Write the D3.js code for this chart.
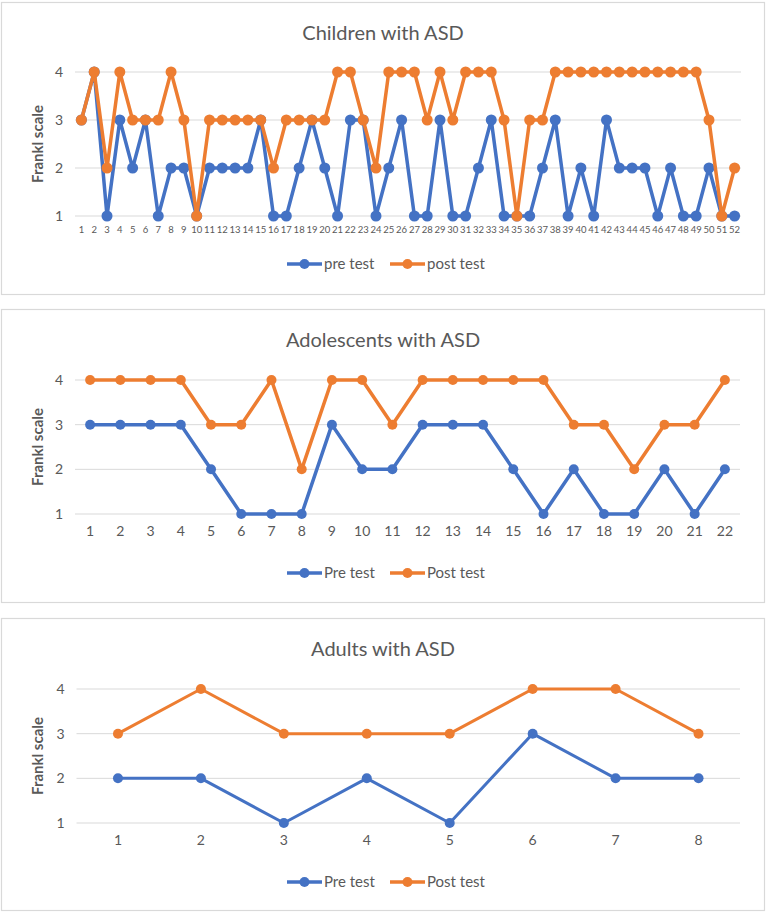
<!DOCTYPE html>
<html><head><meta charset="utf-8">
<script src="https://cdn.jsdelivr.net/npm/d3@7"></script>
<style>body{margin:0;background:#fff;}svg{display:block;font-family:Lato,"Open Sans",sans-serif;}</style>
</head><body>
<svg id="c" width="766" height="913"></svg>
<script>
// ---- data ----
const childCats = d3.range(1, 53);
const childPre = [3,4,1,3,2,3,1,2,2,1,2,2,2,2,3,1,1,2,3,2,1,3,3,1,2,3,1,1,3,1,1,2,3,1,1,1,2,3,1,2,1,3,2,2,2,1,2,1,1,2,1,1];
const childPost = [3,4,2,4,3,3,3,4,3,1,3,3,3,3,3,2,3,3,3,3,4,4,3,2,4,4,4,3,4,3,4,4,4,3,1,3,3,4,4,4,4,4,4,4,4,4,4,4,4,3,1,2];
const adolCats = d3.range(1, 23);
const adolPre = [3,3,3,3,2,1,1,1,3,2,2,3,3,3,2,1,2,1,1,2,1,2];
const adolPost = [4,4,4,4,3,3,4,2,4,4,3,4,4,4,4,4,3,3,2,3,3,4];
const adultCats = d3.range(1, 9);
const adultPre = [2,2,1,2,1,3,2,2];
const adultPost = [3,4,3,3,3,4,4,3];
const yTicks = [1,2,3,4];
const titles = ["Children with ASD", "Adolescents with ASD", "Adults with ASD"];
const legendNames = [["pre test","post test"],["Pre test","Post test"],["Pre test","Post test"]];

const BLUE = "#4472C4", ORANGE = "#ED7D31", GRID = "#d9d9d9", TXT = "#595959";
const svg = d3.select("#c");

function drawChart(o) {
  const g = svg.append("g");
  g.append("rect").attr("x", 1.5).attr("y", o.top + 0.5).attr("width", 763).attr("height", o.bottom - o.top)
    .attr("fill", "#fff").attr("stroke", GRID).attr("stroke-width", 1.2);
  g.append("text").attr("x", 383).attr("y", o.top + 38).attr("text-anchor", "middle")
    .attr("font-size", 20).attr("fill", TXT).text(o.title);

  const x = d3.scaleBand().domain(o.cats).range([o.x0, o.x1]).padding(0);
  const y = d3.scaleLinear().domain([1, 4]).range([o.y1, o.y4]);

  g.selectAll("line.grid").data(yTicks).enter().append("line")
    .attr("x1", o.x0).attr("x2", o.x1).attr("y1", d => y(d)).attr("y2", d => y(d))
    .attr("stroke", GRID).attr("stroke-width", 1);

  const ya = g.append("g").attr("transform", `translate(${o.x0 - 6},0)`)
    .call(d3.axisLeft(y).tickValues(yTicks).tickFormat(d3.format("d")).tickSize(0).tickPadding(6));
  ya.select(".domain").remove();
  ya.selectAll("text").attr("font-size", 14).attr("fill", TXT).attr("font-family", "Lato,sans-serif");

  const xa = g.append("g").attr("transform", `translate(0,${o.y1})`)
    .call(d3.axisBottom(x).tickSize(0).tickPadding(o.xPad));
  xa.select(".domain").remove();
  xa.selectAll("text").attr("font-size", o.xFont).attr("fill", TXT).attr("font-family", "Lato,sans-serif");

  g.append("text").attr("transform", `translate(43,${(o.y1 + o.y4) / 2}) rotate(-90)`)
    .attr("text-anchor", "middle").attr("font-size", 15).attr("font-weight", "bold").attr("fill", TXT)
    .text("Frankl scale");

  const line = d3.line().x((d, i) => x(o.cats[i]) + x.bandwidth() / 2).y(d => y(d));
  [[o.pre, BLUE], [o.post, ORANGE]].forEach(([vals, col]) => {
    g.append("path").datum(vals).attr("d", line).attr("fill", "none").attr("stroke", col)
      .attr("stroke-width", o.lw).attr("stroke-linejoin", "round");
    g.selectAll(null).data(vals).enter().append("circle")
      .attr("cx", (d, i) => x(o.cats[i]) + x.bandwidth() / 2).attr("cy", d => y(d))
      .attr("r", o.r).attr("fill", col);
  });

  const lg = g.append("g").attr("transform", `translate(0,${o.legY})`);
  const items = [{n: o.names[0], c: BLUE, x: 287}, {n: o.names[1], c: ORANGE, x: 390}];
  items.forEach(it => {
    lg.append("line").attr("x1", it.x).attr("x2", it.x + 35).attr("y1", 0).attr("y2", 0)
      .attr("stroke", it.c).attr("stroke-width", 3.5);
    lg.append("circle").attr("cx", it.x + 17.5).attr("cy", 0).attr("r", 5).attr("fill", it.c);
    lg.append("text").attr("x", it.x + 37).attr("y", 5).attr("font-size", 15).attr("fill", TXT).text(it.n);
  });
}

drawChart({top: 2, bottom: 294, title: titles[0], cats: childCats, pre: childPre, post: childPost,
  x0: 75, x1: 741, y1: 216, y4: 72, xFont: 9.5, xPad: 10, lw: 3.5, r: 5.5, legY: 264, names: legendNames[0]});
drawChart({top: 309, bottom: 602, title: titles[1], cats: adolCats, pre: adolPre, post: adolPost,
  x0: 75, x1: 740, y1: 514, y4: 380, xFont: 14, xPad: 12, lw: 3.5, r: 5, legY: 573, names: legendNames[1]});
drawChart({top: 618, bottom: 910, title: titles[2], cats: adultCats, pre: adultPre, post: adultPost,
  x0: 76.5, x1: 740, y1: 823, y4: 689, xFont: 14, xPad: 12, lw: 3, r: 5, legY: 882, names: legendNames[2]});
</script>
</body></html>
